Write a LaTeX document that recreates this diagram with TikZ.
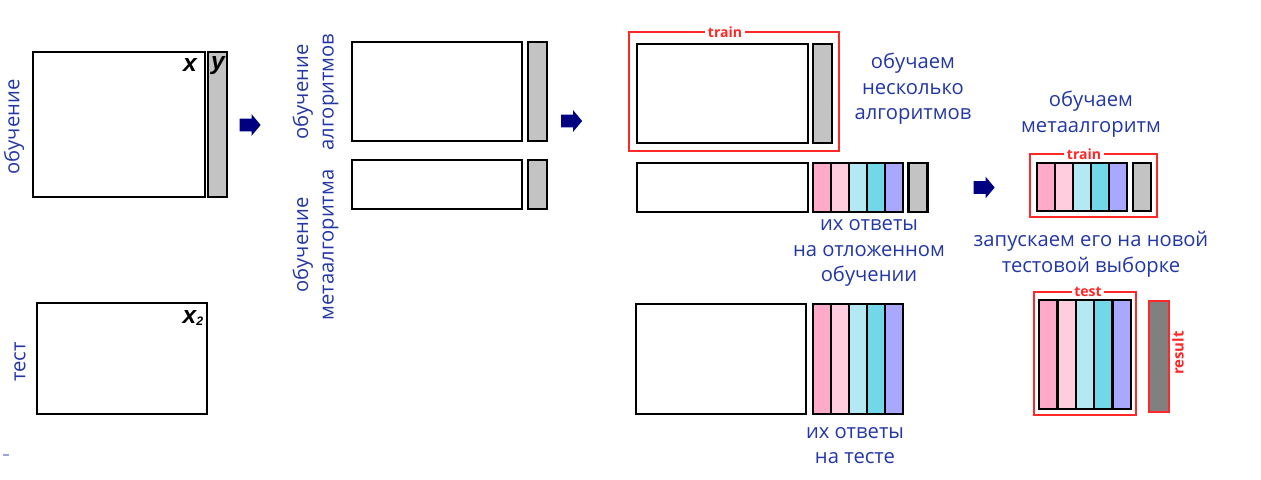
\documentclass[tikz,border=0pt]{standalone}
\usepackage{fontspec}
\setmainfont{Open Sans}
\newfontfamily\varfont{Liberation Sans}
\usetikzlibrary{positioning,shapes.arrows}

\definecolor{labelblue}{RGB}{35,55,165}
\definecolor{framered}{RGB}{255,40,40}
\definecolor{arrownavy}{RGB}{0,0,128}
\definecolor{bargray}{RGB}{195,195,195}
\definecolor{resgray}{RGB}{128,128,128}
\definecolor{predA}{RGB}{255,170,200}
\definecolor{predB}{RGB}{255,205,222}
\definecolor{predC}{RGB}{180,232,242}
\definecolor{predD}{RGB}{114,216,232}
\definecolor{predE}{RGB}{168,168,255}

\begin{document}
\begin{tikzpicture}[
    x=0.02cm, y=-0.02cm,
    databox/.style={rectangle, draw=black, line width=1.3pt, fill=white, inner sep=0pt},
    targetbar/.style={rectangle, draw=black, line width=1.3pt, fill=bargray, minimum width=0.38cm, inner sep=0pt},
    predbar/.style={rectangle, draw=black, line width=1.3pt, minimum width=0.36cm, inner sep=0pt},
    splitframe/.style={rectangle, draw=framered, line width=1.2pt, inner sep=0pt},
    framelabel/.style={fill=white, inner sep=1.5pt, text=framered, font=\fontsize{8}{8}\selectfont\bfseries},
    caption/.style={text=labelblue, align=center, inner sep=0pt, font=\fontsize{11.5}{14.5}\selectfont},
    sidelabel/.style={caption, rotate=90},
    varlabel/.style={font=\varfont\fontsize{14}{14}\selectfont\bfseries\itshape, inner sep=0pt},
    steparrow/.style={single arrow, fill=arrownavy, draw=none, inner sep=0.12cm, minimum height=0.42cm, single arrow head extend=0.09cm, single arrow tip angle=100},
]
\useasboundingbox (0,0) rectangle (1261,480);

% === ORIGINAL DATA ===
\node[databox, minimum width=3.44cm, minimum height=2.9cm] (train-x) at (119,124.5) {};
\node[targetbar, minimum height=2.9cm] (train-y) at (217.5,124.5) {};
\node[varlabel] (x-name) at (190,65) {x};
\node[varlabel] (y-name) at (218,66) {y};
\node[sidelabel] (train-name) at (14,127) {обучение};

\node[databox, minimum width=3.4cm, minimum height=2.22cm] (test-x) at (122,358.5) {};
\node[varlabel, anchor=base] (x2-name) at (193,323) {x\raisebox{-1.5pt}{\fontsize{7}{7}\selectfont 2}};
\node[sidelabel] (test-name) at (20,362) {тест};
\node[fill=labelblue!45, minimum width=0.12cm, minimum height=0.03cm, inner sep=0pt] (dash) at (6,455) {};

\node[steparrow] (arrow1) at (247.5,125) {};

% === SPLIT OF THE TRAIN SET ===
\node[databox, minimum width=3.4cm, minimum height=1.98cm] (base-x) at (437,91.5) {};
\node[targetbar, minimum height=1.98cm] (base-y) at (537.5,91.5) {};
\node[databox, minimum width=3.4cm, minimum height=0.98cm] (meta-x) at (437,184.5) {};
\node[targetbar, minimum height=0.98cm] (meta-y) at (537.5,184.5) {};
\node[sidelabel] (base-name) at (315.5,92) {обучение\\алгоритмов};
\node[sidelabel] (meta-name) at (315.5,245) {обучение\\метаалгоритма};

\node[steparrow] (arrow2) at (569,121) {};

% === BASE ALGORITHMS ===
\node[splitframe, minimum width=4.2cm, minimum height=2.38cm] (base-frame) at (734,91.5) {};
\node[framelabel] (base-frame-name) at (725,32) {train};
\node[databox, minimum width=3.42cm, minimum height=1.98cm] (fit-x) at (722.5,93.5) {};
\node[targetbar, minimum height=1.98cm] (fit-y) at (822.5,93.5) {};
\node[caption] (fit-text) at (913,89) {обучаем\\несколько\\алгоритмов};

\node[databox, minimum width=3.42cm, minimum height=0.98cm] (hold-x) at (722.5,187.5) {};
\foreach \c [count=\i] in {predA,predB,predC,predD,predE}
    \node[predbar, fill=\c, minimum height=0.98cm] (hold-p\i) at ({804+18*\i},187.5) {};
\node[targetbar, minimum height=0.98cm] (hold-y) at (918,187.5) {};
\node[caption] (hold-text) at (869,253) {их ответы\\на отложенном\\обучении};

\node[databox, minimum width=3.4cm, minimum height=2.2cm] (pred-x) at (721,359) {};
\foreach \c [count=\i] in {predA,predB,predC,predD,predE}
    \node[predbar, fill=\c, minimum height=2.2cm] (pred-p\i) at ({804+18*\i},359) {};
\node[caption] (pred-text) at (855,445.5) {их ответы\\на тесте};

\node[steparrow] (arrow3) at (981.5,187.5) {};

% === META ALGORITHM ===
\node[caption] (metafit-text) at (1091,114) {обучаем\\метаалгоритм};
\node[splitframe, minimum width=2.54cm, minimum height=1.26cm] (metafit-frame) at (1093.5,185.5) {};
\node[framelabel] (metafit-frame-name) at (1084,154) {train};
\foreach \c [count=\i] in {predA,predB,predC,predD,predE}
    \node[predbar, fill=\c, minimum height=0.96cm] (metafit-p\i) at ({1028+18*\i},187) {};
\node[targetbar, minimum height=0.96cm, minimum width=0.36cm] (metafit-y) at (1142,187) {};

\node[caption] (run-text) at (1091,254.5) {запускаем его на новой\\тестовой выборке};
\node[splitframe, minimum width=2.04cm, minimum height=2.46cm] (run-frame) at (1085,353.5) {};
\node[framelabel] (run-frame-name) at (1088,292) {test};
\foreach \c [count=\i] in {predA,predB,predC,predD,predE}
    \node[predbar, fill=\c, minimum height=2.18cm, minimum width=0.368cm] (run-p\i) at ({1029.8+18.4*\i},354.5) {};
\node[rectangle, draw=framered, line width=1.2pt, fill=resgray, minimum width=0.4cm, minimum height=2.22cm, inner sep=0pt] (result) at (1159,356.5) {};
\node[framelabel, fill=none, font=\fontsize{8.5}{8.5}\selectfont\bfseries, rotate=90] (result-name) at (1178,353) {result};

\end{tikzpicture}
\end{document}
